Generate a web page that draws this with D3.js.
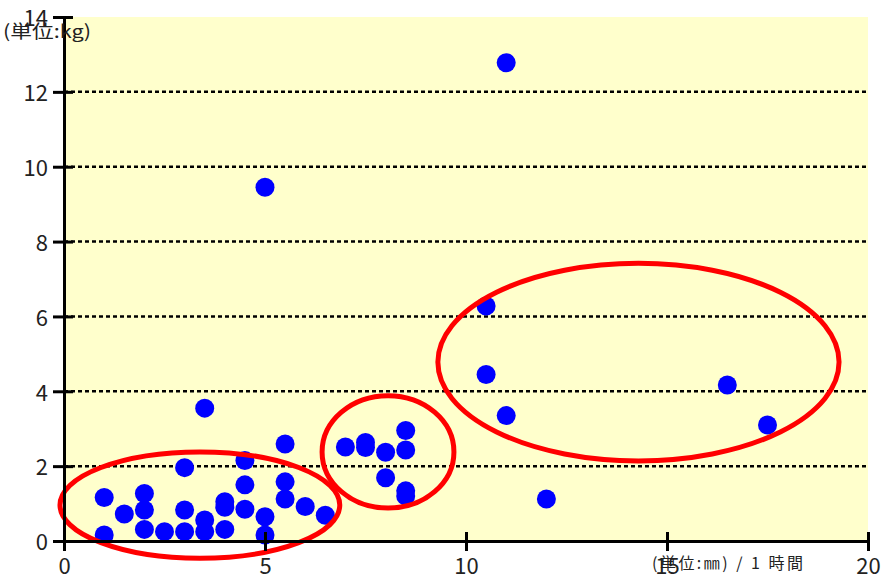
<!DOCTYPE html>
<html>
<head>
<meta charset="utf-8">
<script src="https://cdn.jsdelivr.net/npm/d3@7"></script>
<style>
  html, body { margin: 0; padding: 0; background: #ffffff; }
  svg { display: block; }
  text { font-family: "Noto Sans CJK JP", "Noto Sans", sans-serif; fill: #222; }
</style>
</head>
<body>
<svg id="chart" width="883" height="585"></svg>
<script>
// ---- data ----
const xValues = [1, 1, 1.5, 2, 2, 2, 2.5, 3, 3, 3, 3.5, 3.5, 3.5, 4, 4, 4, 4.5, 4.5, 4.5, 5, 5, 5, 5.5, 5.5, 5.5, 6, 6.5,
                 7, 7.5, 7.5, 8, 8, 8.5, 8.5, 8.5, 8.5, 10.5, 10.5, 11, 11, 12, 16.5, 17.5];
const yValues = [1.16, 0.16, 0.72, 1.27, 0.83, 0.31, 0.25, 1.96, 0.83, 0.25, 3.55, 0.56, 0.25, 1.05, 0.9, 0.31, 2.15, 1.5, 0.85,
                 9.45, 0.65, 0.16, 2.59, 1.58, 1.12, 0.92, 0.69,
                 2.51, 2.63, 2.5, 2.37, 1.69, 2.95, 2.43, 1.34, 1.2, 6.28, 4.45, 3.35, 12.78, 1.12, 4.17, 3.1];
const xTicks = [0, 5, 10, 15, 20];
const yTicks = [0, 2, 4, 6, 8, 10, 12, 14];
const gridValues = [2, 4, 6, 8, 10, 12];
// highlighted groups (ellipses) in data units: centre x, centre y, radius x, radius y
const ellipseCx = [3.38, 8.06, 14.29];
const ellipseCy = [0.96, 2.38, 4.78];
const ellipseRx = [3.48, 1.64, 4.99];
const ellipseRy = [1.42, 1.50, 2.64];
const yUnitLabel = "(単位:kg)";
const xUnitLabel = "(単位:㎜) / 1 時間";

// ---- layout ----
const mLeft = 64, mRight = 868, mTop = 17, mBottom = 541;
const svg = d3.select("#chart");
const x = d3.scaleLinear().domain([0, 20]).range([mLeft, mRight]);
const y = d3.scaleLinear().domain([0, 14]).range([mBottom, mTop]);

// background
svg.append("rect").attr("x", mLeft).attr("y", mTop)
  .attr("width", mRight - mLeft).attr("height", mBottom - mTop)
  .attr("fill", "#FFFFCC");

// dotted gridlines
svg.append("g").selectAll("line").data(gridValues).join("line")
  .attr("x1", mLeft).attr("x2", mRight)
  .attr("y1", d => y(d)).attr("y2", d => y(d))
  .attr("stroke", "#000").attr("stroke-width", 2.5)
  .attr("stroke-dasharray", "4,3");

// points
const pts = xValues.map((v, i) => ({x: v, y: yValues[i]}));
svg.append("g").selectAll("circle").data(pts).join("circle")
  .attr("cx", d => x(d.x)).attr("cy", d => y(d.y)).attr("r", 9.5)
  .attr("fill", "#0000FF");

// ellipses
const ells = ellipseCx.map((c, i) => ({cx: c, cy: ellipseCy[i], rx: ellipseRx[i], ry: ellipseRy[i]}));
svg.append("g").selectAll("ellipse").data(ells).join("ellipse")
  .attr("cx", d => x(d.cx)).attr("cy", d => y(d.cy))
  .attr("rx", d => x(d.rx) - x(0)).attr("ry", d => y(0) - y(d.ry))
  .attr("fill", "none").attr("stroke", "#FF0000").attr("stroke-width", 5);

// axes
const xAxis = d3.axisBottom(x).tickValues(xTicks).tickSize(0).tickFormat(d3.format("d"));
const gx = svg.append("g").attr("transform", `translate(0,${mBottom})`).call(xAxis);
gx.select(".domain").attr("stroke", "#000").attr("stroke-width", 3);
gx.selectAll(".tick").append("line").attr("y1", -9).attr("y2", 10)
  .attr("stroke", "#000").attr("stroke-width", 3);
gx.selectAll(".tick text").attr("y", 33).attr("dy", null)
  .attr("font-size", 22).attr("fill", "#222")
  .attr("font-family", '"Noto Sans CJK JP", sans-serif');

const yAxis = d3.axisLeft(y).tickValues(yTicks).tickSize(0).tickFormat(d3.format("d"));
const gy = svg.append("g").attr("transform", `translate(${mLeft},0)`).call(yAxis);
gy.select(".domain").attr("stroke", "#000").attr("stroke-width", 3);
gy.selectAll(".tick").append("line").attr("x1", -11).attr("x2", 9)
  .attr("stroke", "#000").attr("stroke-width", 3);
gy.selectAll(".tick text").attr("x", -16).attr("dy", "0.40em")
  .attr("font-size", 22).attr("fill", "#222")
  .attr("font-family", '"Noto Sans CJK JP", sans-serif');

// unit labels
svg.append("text").attr("x", 3).attr("y", 38)
  .attr("font-size", 18).attr("textLength", 88).attr("lengthAdjust", "spacingAndGlyphs")
  .text(yUnitLabel);
svg.append("text").attr("x", 652).attr("y", 569)
  .attr("font-size", 16).attr("textLength", 151).attr("lengthAdjust", "spacing")
  .text(xUnitLabel);
</script>
</body>
</html>
